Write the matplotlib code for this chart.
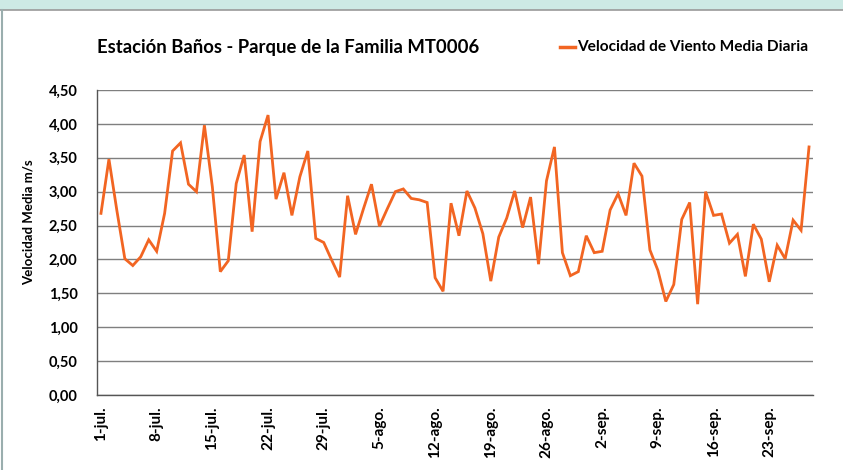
import matplotlib
matplotlib.use("Agg")
import matplotlib.pyplot as plt
from matplotlib.lines import Line2D
from matplotlib.patches import Rectangle
from matplotlib.ticker import FuncFormatter
import numpy as np

# daily mean wind speed, 1-jul .. 28-sep
velocidad = [
    2.68, 3.48, 2.72, 2.01, 1.91, 2.04, 2.29, 2.12, 2.68, 3.60,
    3.72, 3.11, 3.00, 3.98, 3.07, 1.82, 1.98, 3.12, 3.54, 2.41,
    3.74, 4.13, 2.89, 3.28, 2.65, 3.22, 3.60, 2.31, 2.25, 1.99,
    1.74, 2.94, 2.37, 2.75, 3.11, 2.49, 2.75, 3.00, 3.04, 2.90,
    2.88, 2.84, 1.73, 1.53, 2.83, 2.35, 3.01, 2.76, 2.38, 1.68,
    2.33, 2.61, 3.01, 2.47, 2.92, 1.93, 3.16, 3.66, 2.10, 1.76,
    1.82, 2.35, 2.10, 2.12, 2.73, 2.97, 2.65, 3.42, 3.23, 2.14,
    1.84, 1.38, 1.63, 2.59, 2.84, 1.34, 3.00, 2.65, 2.67, 2.24,
    2.37, 1.75, 2.52, 2.30, 1.67, 2.21, 2.01, 2.58, 2.43, 3.66,
]
tick_labels = ['1-jul.', '8-jul.', '15-jul.', '22-jul.', '29-jul.', '5-ago.',
               '12-ago.', '19-ago.', '26-ago.', '2-sep.', '9-sep.', '16-sep.',
               '23-sep.']

plt.rcParams['font.family'] = ['Lato', 'DejaVu Sans']
W, H = 843, 470
fig = plt.figure(figsize=(W / 100, H / 100), dpi=100)

# frame bits of the original screenshot
fig.patches.append(Rectangle((0, 1 - 9.5 / H), 1, 9.5 / H, transform=fig.transFigure,
                             facecolor='#cdeae5', edgecolor='none', zorder=0))
fig.lines.append(Line2D([0, 1], [1 - 10 / H, 1 - 10 / H], transform=fig.transFigure,
                        color='#9a9a9a', lw=1.2))
fig.lines.append(Line2D([1.5 / W, 1.5 / W], [0, 1 - 10 / H], transform=fig.transFigure,
                        color='#9aaeae', lw=1.5))

ax = fig.add_axes([97 / W, 75 / H, 716 / W, 305 / H])
x = np.arange(len(velocidad))
ax.plot(x, velocidad, color='#f26522', lw=2.0, solid_joinstyle='miter', zorder=3)

ax.set_xlim(-0.5, len(velocidad) - 0.5)
ax.set_ylim(0, 4.5)
ax.set_yticks(np.arange(0, 4.51, 0.5))
ax.yaxis.set_major_formatter(FuncFormatter(lambda v, p: '{:.2f}'.format(v).replace('.', ',')))
ax.set_xticks(np.arange(0, len(velocidad), 7))
ax.set_xticklabels(tick_labels, rotation=90)
ax.tick_params(length=0)
ax.tick_params(axis='y', pad=14, labelsize=10.5)
ax.tick_params(axis='x', pad=8, labelsize=11)
for lab in ax.get_xticklabels() + ax.get_yticklabels():
    lab.set_fontweight('bold')

ax.grid(axis='y', color='#7f7f7f', lw=1.0)
ax.set_axisbelow(True)
for s in ['top', 'right']:
    ax.spines[s].set_visible(False)
for s in ['left', 'bottom']:
    ax.spines[s].set_color('#555555')
    ax.spines[s].set_linewidth(1.0)

fig.text(29 / W, 1 - 222 / H, 'Velocidad Media m/s', rotation=90, fontsize=9.5,
         fontweight='bold', ha='center', va='center')

fig.text(97 / W, 1 - 47 / H, 'Estación Baños - Parque de la Familia MT0006',
         fontsize=13.3, fontweight='bold', ha='left', va='center')
fig.lines.append(Line2D([560 / W, 575 / W], [1 - 47 / H, 1 - 47 / H],
                        transform=fig.transFigure, color='#f26522', lw=2.5))
fig.text(577 / W, 1 - 47 / H, 'Velocidad de Viento Media Diaria',
         fontsize=11.1, fontweight='bold', ha='left', va='center')

fig.savefig('out.png', dpi=100)
